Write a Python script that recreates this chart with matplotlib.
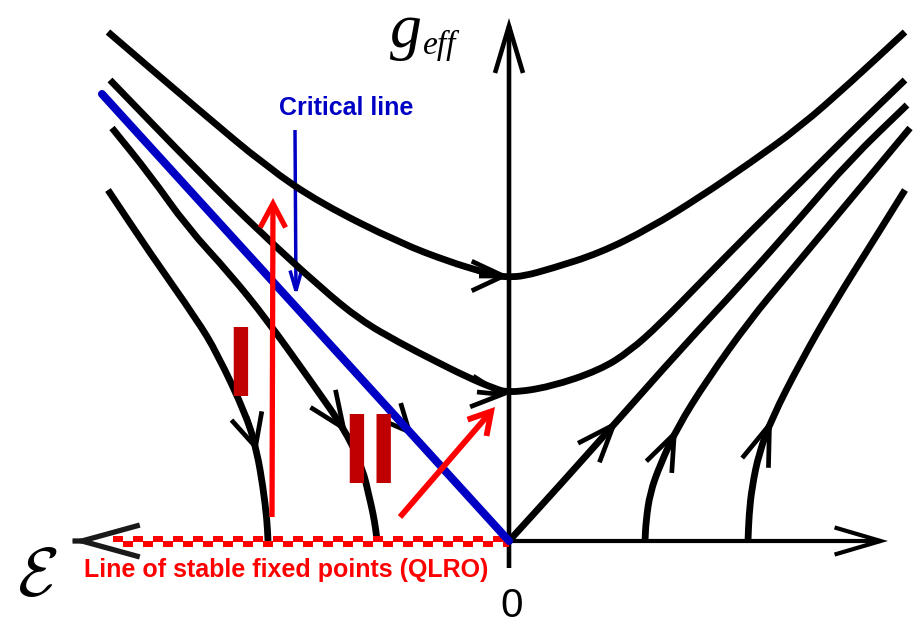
import numpy as np
import matplotlib
matplotlib.use("Agg")
import matplotlib.pyplot as plt
from matplotlib.patches import ArrowStyle, PathPatch
from matplotlib.path import Path

plt.rcParams['lines.scale_dashes'] = False
plt.rcParams['mathtext.fontset'] = 'cm'

# coordinates, origin at the crossing of the axes
# (x grows to the right, g grows upwards, one unit = one pixel)

# flow lines above the critical line (pass over the g axis)
flow_a_x = [-401, -309, -242, -189, -109, -59, -29, -12, 0, 15, 41, 91, 141, 191, 241, 291, 341, 396]
flow_a_y = [509, 430, 374, 338, 298, 279, 270, 265, 264, 265, 272, 288, 313, 344, 378, 414, 458, 509]
flow_b_x = [-399, -309, -249, -189, -149, -109, -76, -42, -16, 0, 41, 91, 121, 151, 191, 241, 291, 341, 396]
flow_b_y = [461, 368, 309, 254, 221, 198, 181, 164, 153, 148, 154, 171, 190, 217, 258, 309, 358, 408, 461]

# critical line (blue)
crit_x = [-407, 0]
crit_y = [447, 0]

# flow lines below the critical line (end on the fixed line)
flow_c_x = [-397, -359, -322, -279, -242, -199, -162, -146, -140, -136, -133, -132]
flow_c_y = [413, 366, 314, 267, 221, 161, 108, 71, 45, 28, 10, 0]
flow_d_x = [-401, -359, -312, -292, -262, -252, -246, -242, -241]
flow_d_y = [351, 288, 221, 188, 124, 89, 54, 21, 0]

# flow lines right of the g axis
sep_x = [0, 51, 109, 171, 236, 291, 341, 398]
sep_y = [0, 56, 121, 191, 261, 323, 381, 436]
flow_e_x = [136, 137, 141, 151, 168, 198, 241, 276, 341, 401]
flow_e_y = [0, 20, 48, 76, 113, 161, 221, 263, 341, 413]
flow_f_x = [239, 240, 243, 250, 263, 291, 324, 368, 396]
flow_f_y = [0, 26, 54, 88, 123, 178, 236, 306, 351]

# direction marks on the flow lines: (tip, tail, wing length, half angle)
black_heads = [
    ((109, 121), (51, 56), 40, 21),
    ((168, 113), (151, 76), 39, 21),
    ((263, 123), (250, 88), 43, 19),
    ((0, 265), (-30, 265), 35, 25),
    ((-2, 146), (-32, 149), 34, 27),
    ((-162, 108), (-199, 161), 39, 23),
    ((-252, 89), (-262, 124), 36, 26),
]
crit_head = ((-96, 105), (-120, 132), 30, 25)

fixed_line_x = [-396, 0]
g_axis_y = [-27, 523]
eps_axis_x = [0, 379]
eps_arrow_tip = -437

red_up = ((-237, 24), (-236, 343))
red_diag = ((-109, 24), (-14, 134))
crit_pointer = ((-214, 411), (-213, 244))

BLUE = '#0000C4'
RED = '#FF0000'
DARKRED = '#C00000'


def head(ax, tip, tail, length, half, color='black', lw=3.2, z=3):
    L = length * 0.72
    th = np.radians(half)
    style = ArrowStyle('->', head_length=L * np.cos(th), head_width=L * np.sin(th))
    ax.annotate('', xy=tip, xytext=tail,
                arrowprops=dict(arrowstyle=style, color=color, lw=lw,
                                shrinkA=0, shrinkB=0, mutation_scale=1,
                                joinstyle='miter', capstyle='butt'),
                zorder=z)


def smooth(xs, ys):
    # quadratic bezier through the midpoints of the read points
    p = np.column_stack([xs, ys]).astype(float)
    mids = (p[:-1] + p[1:]) / 2
    verts = [p[0], mids[0]]
    codes = [Path.MOVETO, Path.LINETO]
    for i in range(1, len(p) - 1):
        verts += [p[i], mids[i]]
        codes += [Path.CURVE3, Path.CURVE3]
    verts.append(p[-1])
    codes.append(Path.LINETO)
    return Path(verts, codes)


fig = plt.figure(figsize=(9.16, 6.26), dpi=100)
ax = fig.add_axes([0, 0, 1, 1])
ax.set_xlim(-509, 407)
ax.set_ylim(-85, 541)
ax.axis('off')

# axes
head(ax, (0, g_axis_y[1]), (0, g_axis_y[0]), 49, 16.6, lw=3.3, z=2)
head(ax, (eps_axis_x[1], 0), (eps_axis_x[0], 0), 48, 16.4, lw=3.0, z=2)
head(ax, (eps_arrow_tip, 0), (eps_arrow_tip + 1, 0), 60, 15.4, color='#1a1a1a', lw=3.8, z=2)

# line of stable fixed points, checkered
ax.plot(fixed_line_x, [2.5, 2.5], color=RED, lw=4.3, linestyle=(0, (7.2, 7.2)), zorder=2.5)
ax.plot([fixed_line_x[0] + 10, fixed_line_x[1]], [-2.5, -2.5], color=RED, lw=4.3,
        linestyle=(0, (7.2, 7.2)), zorder=2.5)

# flow lines
for xs, ys in [(flow_a_x, flow_a_y), (flow_b_x, flow_b_y), (flow_c_x, flow_c_y),
               (flow_d_x, flow_d_y), (sep_x, sep_y), (flow_e_x, flow_e_y),
               (flow_f_x, flow_f_y)]:
    ax.add_patch(PathPatch(smooth(xs, ys), fill=False, edgecolor='black', lw=4.9,
                           capstyle='butt', joinstyle='round', zorder=2))

for tip, tail, length, half in black_heads:
    head(ax, tip, tail, length, half, lw=3.4, z=2)
head(ax, crit_head[0], crit_head[1], crit_head[2], crit_head[3], lw=3.4, z=2)

ax.plot(crit_x, crit_y, color=BLUE, lw=5.8, solid_capstyle='round', zorder=3)

# arrows
head(ax, red_up[1], red_up[0], 27, 28, color=RED, lw=3.8, z=4)
head(ax, red_diag[1], red_diag[0], 25, 30, color=RED, lw=4.2, z=4)
head(ax, crit_pointer[1], crit_pointer[0], 21, 16, color=BLUE, lw=2.5, z=1)

# labels
ax.text(-162.5, 426, 'Critical line', color=BLUE, fontsize=18, fontweight='bold',
        family='Liberation Sans', ha='center', va='baseline')
ax.text(-223, -36, 'Line of stable fixed points (QLRO)', color=RED, fontsize=18,
        fontweight='bold', family='Liberation Sans', ha='center', va='baseline')
ax.text(-268.5, 145, 'I', color=DARKRED, fontsize=72, fontweight='bold',
        family='Liberation Sans', ha='center', va='baseline', zorder=5)
ax.text(-139, 58, 'II', color=DARKRED, fontsize=72, fontweight='bold',
        family='Liberation Sans', ha='center', va='baseline', zorder=5)
ax.text(2.5, -76, '0', fontsize=29, family='Liberation Sans', ha='center', va='baseline')
ax.text(-119, 494, 'g', fontsize=46, family='Liberation Serif', style='italic',
        ha='left', va='baseline')
ax.text(-86, 487, 'eff', fontsize=24, family='Liberation Serif', style='italic',
        ha='left', va='baseline')
ax.text(-472, -35, r'$\mathcal{E}$', fontsize=49, ha='center', va='center')

fig.savefig('out.png', dpi=100)
